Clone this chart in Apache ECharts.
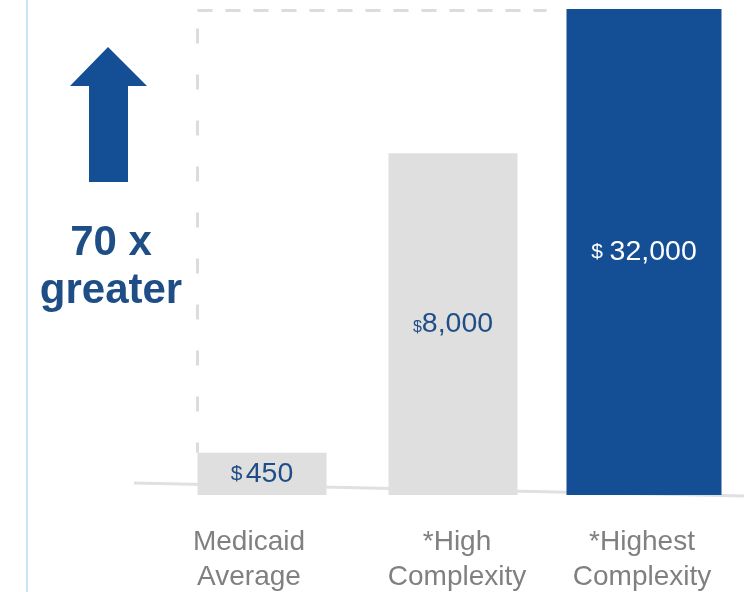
<!DOCTYPE html>
<html>
<head>
<meta charset="utf-8">
<script src="https://cdn.jsdelivr.net/npm/echarts@6/dist/echarts.min.js"></script>
<style>
  html, body { margin: 0; padding: 0; background: #ffffff; }
  #main { width: 744px; height: 592px; }
</style>
</head>
<body>
<div id="main"></div>
<script>
// Cost per patient, by complexity
const categories = ['Medicaid\nAverage', '*High\nComplexity', '*Highest\nComplexity'];
const costs = [450, 8000, 32000];
const headline = ['70 x', 'greater'];

// Presentation settings
const FONT = 'Liberation Sans, Arial, sans-serif';
const BLUE = '#144f96';
const DARK_BLUE = '#1f4e86';
const GRAY_BAR = '#dfdfdf';
const DASH = '#dcdcdc';
const labelStyles = [
  { sym: 'sA', gap: ' ', color: DARK_BLUE },
  { sym: 'sB', gap: '', color: DARK_BLUE },
  { sym: 'sA', gap: '  ', color: '#ffffff' }
];
// horizontal nudge of each category caption (left, right padding)
const captionPad = [[0, 26], [8, 0], [0, 4]];
const grayWidth = 129;
const blueWidth = 155;

function fmt(v) { return v.toLocaleString('en-US'); }

function labelFor(i) {
  const st = labelStyles[i];
  return {
    show: true,
    position: 'inside',
    color: st.color,
    fontFamily: FONT,
    formatter: (p) => '{' + st.sym + '|$}' + st.gap + '{n|' + fmt(p.value) + '}',
    rich: {
      sA: { fontSize: 21, color: st.color, fontFamily: FONT },
      sB: { fontSize: 16, color: st.color, fontFamily: FONT, padding: [6, 0, 0, 0] },
      n: { fontSize: 28.5, color: st.color, fontFamily: FONT }
    }
  };
}

// Gray bars for the first two categories, blue bar for the last one
const grayData = costs.map((v, i) => i < 2 ? { value: v, label: labelFor(i) } : '-');
const blueData = costs.map((v, i) => i === 2 ? { value: v, label: labelFor(i) } : '-');

const captionRich = {};
captionPad.forEach((p, i) => {
  captionRich['c' + i] = {
    color: '#808080', fontSize: 28, lineHeight: 35, fontFamily: FONT,
    padding: [0, p[1], 0, p[0]]
  };
});

const xAxisBase = {
  type: 'category',
  data: categories,
  axisLine: { show: false },
  axisTick: { show: false },
  splitLine: { show: false }
};

const option = {
  animation: false,
  backgroundColor: '#ffffff',
  grid: { left: 166.5, right: 4.5, top: 9, bottom: 97, containLabel: false, outerBoundsMode: 'none' },
  xAxis: [
    Object.assign({}, xAxisBase, {
      axisLabel: {
        color: '#808080',
        fontSize: 28,
        lineHeight: 35,
        fontFamily: FONT,
        margin: 30,
        interval: 0,
        formatter: (val, idx) => val.split('\n').map(s => '{c' + idx + '|' + s + '}').join('\n'),
        rich: captionRich
      }
    }),
    Object.assign({}, xAxisBase, { show: false })
  ],
  yAxis: {
    type: 'log',
    min: 300,
    max: 32000,
    show: false,
    splitLine: { show: false }
  },
  series: [
    {
      type: 'bar',
      xAxisIndex: 0,
      data: grayData,
      barWidth: grayWidth,
      itemStyle: { color: GRAY_BAR },
      clip: true
    },
    {
      type: 'bar',
      xAxisIndex: 1,
      data: blueData,
      barWidth: blueWidth,
      itemStyle: { color: BLUE },
      clip: true
    }
  ]
};

const chart = echarts.init(document.getElementById('main'), null, { renderer: 'canvas' });
chart.setOption(option);

// Dashed bracket comparing the smallest bar to the tallest one
const xLeft = chart.convertToPixel({ xAxisIndex: 0 }, 0) - grayWidth / 2;
const xBlueLeft = chart.convertToPixel({ xAxisIndex: 1 }, 2) - blueWidth / 2;
const yTop = chart.convertToPixel({ yAxisIndex: 0 }, costs[2]) + 1.5;
const yLow = chart.convertToPixel({ yAxisIndex: 0 }, costs[0]);

chart.setOption({
  graphic: [
    {
      type: 'line', z: -10,
      shape: { x1: 27, y1: 0, x2: 27, y2: 592 },
      style: { stroke: '#c8e6f8', lineWidth: 2 }
    },
    {
      type: 'line', z: -5,
      shape: { x1: 134, y1: 483, x2: 744, y2: 496 },
      style: { stroke: '#e0e0e0', lineWidth: 3 }
    },
    {
      type: 'line', z: -5,
      shape: { x1: xLeft, y1: yTop, x2: xBlueLeft - 20, y2: yTop },
      style: { stroke: DASH, lineWidth: 3, lineDash: [15, 13] }
    },
    {
      type: 'line', z: -5,
      shape: { x1: xLeft, y1: yTop, x2: xLeft, y2: yLow },
      style: { stroke: DASH, lineWidth: 3, lineDash: [0, 18, 15, 13] }
    },
    {
      type: 'polygon',
      shape: {
        points: [[108, 47], [147, 86], [128, 86], [128, 182], [89, 182], [89, 86], [70, 86]]
      },
      style: { fill: BLUE }
    },
    {
      type: 'text',
      x: 111,
      y: 219,
      style: {
        text: headline.join('\n'),
        font: 'bold 42px ' + FONT,
        fill: DARK_BLUE,
        align: 'center',
        verticalAlign: 'top',
        lineHeight: 48
      }
    }
  ]
});
</script>
</body>
</html>
